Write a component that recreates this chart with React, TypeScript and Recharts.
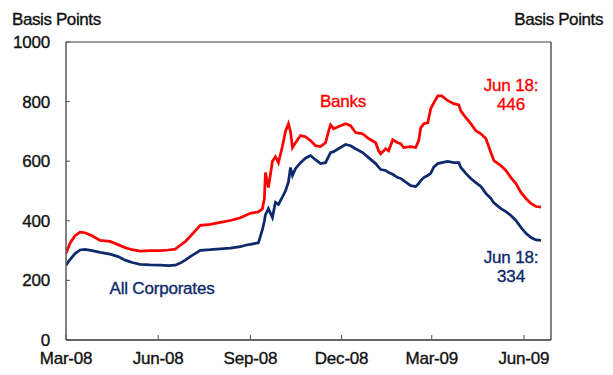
import React from 'react';
import { LineChart, Line, XAxis, YAxis, ReferenceLine } from 'recharts';

// days counted from 1 Mar 2008
const days = [
  0, 4, 9, 14, 19, 26, 34, 44, 52, 59,
  66, 74, 84, 94, 102, 109, 114, 119, 124, 134,
  144, 154, 164, 174, 179, 184, 189, 192, 196, 198,
  199, 202, 206, 209, 212, 216, 219, 222, 224, 226,
  229, 234, 239, 244, 249, 254, 259, 262, 264, 267,
  271, 274, 279, 284, 289, 296, 302, 309, 312, 314,
  319, 322, 326, 331, 334, 337, 344, 349, 352, 354,
  357, 361, 364, 367, 371, 375, 381, 387, 392, 394,
  399, 404, 409, 414, 419, 424, 427, 434, 439, 444,
  449, 454, 459, 464, 469, 474,
];

const banks = [
  290, 325, 350, 362, 360, 350, 334, 331, 320, 310,
  303, 298, 300, 300, 302, 305, 318, 330, 348, 385,
  388, 395, 401, 410, 418, 425, 428, 430, 440, 475,
  562, 512, 600, 615, 595, 650, 700, 726, 700, 646,
  662, 686, 682, 669, 652, 649, 662, 700, 722, 709,
  715, 719, 726, 719, 696, 692, 676, 662, 635, 625,
  642, 635, 672, 662, 659, 646, 649, 646, 669, 712,
  726, 729, 776, 796, 819, 819, 803, 793, 789, 769,
  746, 726, 702, 692, 676, 629, 602, 585, 569, 545,
  525, 495, 475, 458, 448, 446,
];

const corporates = [
  251, 270, 290, 302, 304, 300, 294, 288, 280, 268,
  260, 254, 252, 251, 250, 251, 258, 268, 280, 301,
  303, 306, 308, 313, 318, 321, 324, 326, 370, 400,
  420, 441, 411, 462, 455, 480, 500, 530, 579, 552,
  575, 595, 610, 619, 605, 592, 595, 615, 629, 632,
  640, 646, 656, 652, 642, 629, 612, 592, 580, 572,
  569, 562, 556, 545, 542, 535, 518, 515, 525, 535,
  545, 552, 559, 580, 592, 595, 599, 595, 595, 579,
  559, 542, 528, 515, 492, 475, 460, 441, 431, 418,
  401, 378, 358, 344, 336, 334,
];

const tickDays = [0, 92, 184, 275, 365, 457];
const tickLabels = ['Mar-08', 'Jun-08', 'Sep-08', 'Dec-08', 'Mar-09', 'Jun-09'];
const yTicks = [0, 200, 400, 600, 800, 1000];

const data = days.map((d, i) => ({ day: d, banks: banks[i], corporates: corporates[i] }));

const FONT = '"Liberation Sans", Arial, sans-serif';
const RED = '#FF0000';
const NAVY = '#0D2A6A';
const INK = '#111';
const FS = 17;

// a thin stroke on the text to get the heavier look of the original
const tickStyle = { fontSize: FS, fill: INK, stroke: INK, strokeWidth: 0.35, fontFamily: FONT, letterSpacing: -0.2 };

const note = (left: number, top: number, color: string, text: string) => (
  <div
    style={{
      position: 'absolute',
      left,
      top,
      transform: 'translate(-50%, -50%)',
      color,
      fontFamily: FONT,
      fontSize: FS,
      letterSpacing: -0.2,
      WebkitTextStroke: `0.35px ${color}`,
      whiteSpace: 'nowrap',
      lineHeight: 1,
    }}
  >
    {text}
  </div>
);

const titleStyle: React.CSSProperties = {
  position: 'absolute',
  top: 11,
  fontFamily: FONT,
  fontSize: FS,
  color: INK,
  letterSpacing: -0.4,
  WebkitTextStroke: `0.35px ${INK}`,
  lineHeight: 1,
  whiteSpace: 'nowrap',
};

export default function App() {
  return (
    <div style={{ position: 'absolute', left: 0, top: 0, width: 613, height: 375, background: '#fff' }}>
      <LineChart width={613} height={375} data={data} margin={{ top: 42, right: 0, bottom: 0, left: 0 }}>
        <XAxis
          dataKey="day"
          type="number"
          domain={[0, 484]}
          ticks={tickDays}
          tickFormatter={(v: number) => tickLabels[tickDays.indexOf(v)] ?? ''}
          height={35}
          tickSize={-5}
          tickMargin={17}
          tick={tickStyle}
          axisLine={{ stroke: '#333', strokeWidth: 1.5 }}
          tickLine={{ stroke: '#555' }}
          allowDataOverflow
        />
        <YAxis
          yAxisId="left"
          domain={[0, 1000]}
          ticks={yTicks}
          width={66}
          tickSize={-4}
          tickMargin={20}
          tick={tickStyle}
          axisLine={{ stroke: '#595959', strokeWidth: 1.5 }}
          tickLine={{ stroke: '#555' }}
        />
        <YAxis
          yAxisId="right"
          orientation="right"
          domain={[0, 1000]}
          ticks={yTicks}
          width={62}
          tickSize={-4}
          tickMargin={20}
          tick={tickStyle}
          axisLine={{ stroke: '#595959', strokeWidth: 1.5 }}
          tickLine={{ stroke: '#555' }}
        />
        {/* top border of the plot box */}
        <ReferenceLine yAxisId="left" y={1000} stroke="#7f7f7f" strokeWidth={1.5} />
        <Line
          yAxisId="left"
          type="linear"
          dataKey="banks"
          stroke={RED}
          strokeWidth={2.75}
          dot={false}
          isAnimationActive={false}
        />
        <Line
          yAxisId="left"
          type="linear"
          dataKey="corporates"
          stroke={NAVY}
          strokeWidth={2.75}
          dot={false}
          isAnimationActive={false}
        />
      </LineChart>

      {/* axis titles */}
      <div style={{ ...titleStyle, left: 12 }}>Basis Points</div>
      <div style={{ ...titleStyle, right: 10 }}>Basis Points</div>

      {note(343, 101, RED, 'Banks')}
      {note(162, 288, NAVY, 'All Corporates')}
      {note(511, 85, RED, 'Jun 18:')}
      {note(511, 104, RED, '446')}
      {note(511, 257, NAVY, 'Jun 18:')}
      {note(511, 276, NAVY, '334')}
    </div>
  );
}
